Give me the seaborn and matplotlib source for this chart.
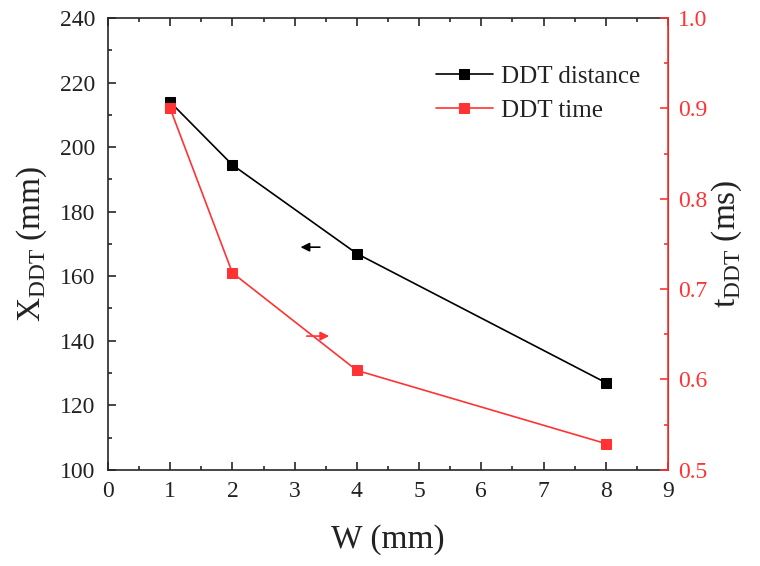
import matplotlib
matplotlib.use("Agg")
import matplotlib.pyplot as plt
import seaborn as sns
import pandas as pd
from matplotlib.ticker import MultipleLocator

W = [1, 2, 4, 8]
x_ddt = [214, 194.5, 167, 127]
t_ddt = [0.90, 0.718, 0.61, 0.529]

sns.set_style("ticks")
plt.rcParams['font.family'] = ['Liberation Serif', 'DejaVu Serif']
plt.rcParams['mathtext.fontset'] = 'custom'
plt.rcParams['mathtext.rm'] = 'Liberation Serif'

RED = '#ff3333'

fig, ax = plt.subplots(figsize=(7.6, 5.66), dpi=100)
fig.subplots_adjust(left=0.142, right=0.879, top=0.968, bottom=0.17)
ax2 = ax.twinx()

df1 = pd.DataFrame({'W': W, 'X': x_ddt})
df2 = pd.DataFrame({'W': W, 't': t_ddt})

sns.lineplot(data=df1, x='W', y='X', ax=ax, color='black', marker='s', markersize=7.5,
             markeredgecolor='black', linewidth=1.2, label='DDT distance', legend=False)
sns.lineplot(data=df2, x='W', y='t', ax=ax2, color=RED, marker='s', markersize=7.5,
             markeredgecolor=RED, linewidth=1.2, label='DDT time', legend=False)

ax.set_xlim(0, 9)
ax.set_ylim(100, 240)
ax2.set_ylim(0.5, 1.0)

ax.xaxis.set_major_locator(MultipleLocator(1))
ax.xaxis.set_minor_locator(MultipleLocator(0.5))
ax.yaxis.set_major_locator(MultipleLocator(20))
ax.yaxis.set_minor_locator(MultipleLocator(10))
ax2.yaxis.set_major_locator(MultipleLocator(0.1))
ax2.yaxis.set_minor_locator(MultipleLocator(0.05))

ax.tick_params(axis='both', which='both', direction='in', top=True, labelsize=17, width=1.2,
               labelcolor='#222222')
ax.tick_params(axis='y', which='both', right=False, pad=9)
ax.tick_params(axis='x', which='both', pad=8)
ax.tick_params(which='major', length=6)
ax.tick_params(which='minor', length=3)
ax2.tick_params(axis='y', which='both', direction='in', colors=RED, labelsize=17, width=1.2, pad=7)
ax2.tick_params(which='major', length=6)
ax2.tick_params(which='minor', length=3)
ax2.yaxis.set_major_formatter(plt.FormatStrFormatter('%.1f'))

for s in ['left', 'bottom', 'top']:
    ax.spines[s].set_linewidth(1.2)
ax2.spines['right'].set_color(RED)
ax2.spines['right'].set_linewidth(1.2)
ax2.spines['left'].set_visible(False)
ax2.spines['top'].set_visible(False)
ax2.spines['bottom'].set_visible(False)

ax.set_xlabel('W (mm)', fontsize=24, labelpad=16, color='#222222')
ax.set_ylabel(r'X$_{\mathrm{DDT}}$ (mm)', fontsize=24, labelpad=8, color='#222222')
ax2.set_ylabel(r't$_{\mathrm{DDT}}$ (ms)', fontsize=24, labelpad=2, color='#222222')

# arrows indicating axes
ax.annotate('', xy=(3.05, 169), xytext=(3.45, 169),
            arrowprops=dict(arrowstyle='-|>', color='black', lw=1.2, mutation_scale=13))
ax2.annotate('', xy=(3.6, 0.648), xytext=(3.15, 0.648),
             arrowprops=dict(arrowstyle='-|>', color=RED, lw=1.2, mutation_scale=13))

h1, l1 = ax.get_legend_handles_labels()
h2, l2 = ax2.get_legend_handles_labels()
leg = ax2.legend(h1 + h2, l1 + l2, loc='upper right', bbox_to_anchor=(0.99, 0.945), frameon=False,
                 fontsize=18, handlelength=2.3, labelspacing=0.45, handletextpad=0.3)
for t in leg.get_texts():
    t.set_color('#222222')

fig.savefig('out.png', dpi=100)
